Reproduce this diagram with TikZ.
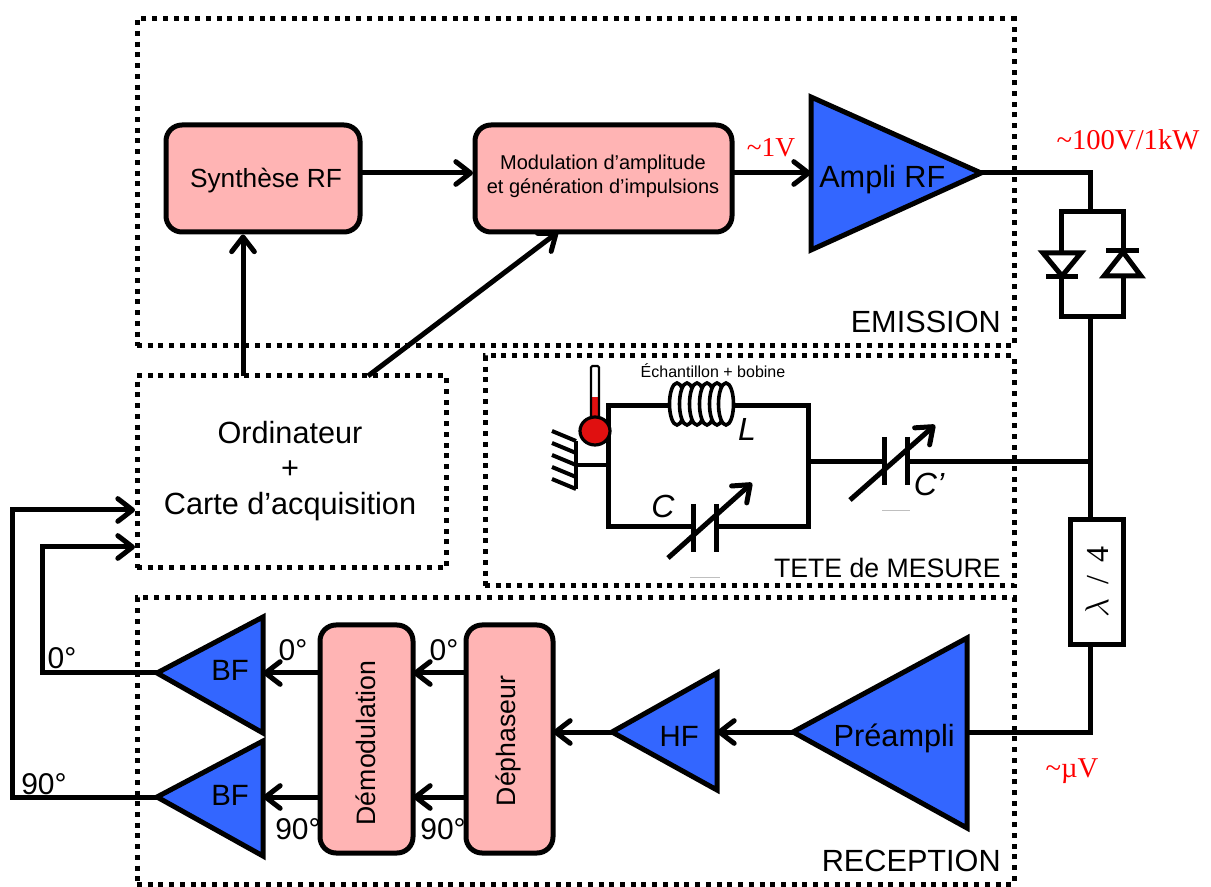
\documentclass[tikz,border=0pt]{standalone}
\usepackage{fontspec}
\setmainfont{Liberation Sans}
\newfontfamily\redfont{Liberation Serif}
\usetikzlibrary{arrows.meta}
\definecolor{boxpink}{RGB}{255,180,180}
\definecolor{ampblue}{RGB}{51,102,255}
\definecolor{thermred}{RGB}{224,16,16}
\tikzset{
  wire/.style={line width=3.75pt,line join=miter},
  flow/.style={line width=3.75pt,-{Straight Barb[length=11pt,width=17pt,line width=3.75pt,round]}},
  dotbox/.style={draw,line width=3.75pt,dash pattern=on 3.75pt off 4.3pt},
  pinkbox/.style={draw,line width=3.75pt,fill=boxpink,rounded corners=12pt,inner sep=0pt,align=center},
  amp/.style={draw,line width=3.75pt,fill=ampblue,line join=miter},
  txt/.style={inner sep=0pt,font=\fontsize{23}{27}\selectfont,align=center},
  lab/.style={inner sep=0pt,font=\fontsize{23}{27}\selectfont},
  rlab/.style={inner sep=0pt,text=red,font=\redfont\fontsize{21.5}{25}\selectfont},
  deg/.style={inner sep=0pt,font=\fontsize{22.5}{27}\selectfont},
  sym/.style={inner sep=0pt,font=\itshape\fontsize{24}{28}\selectfont},
  vtxt/.style={font=\fontsize{20}{24}\selectfont}
}
\begin{document}
\begin{tikzpicture}[x=0.75pt,y=-0.75pt]
\useasboundingbox (0,0) rectangle (1211,887);
% dotted regions
\node[dotbox,minimum width=657.75pt,minimum height=245.25pt,inner sep=0pt] (em) at (575.5,182.5) {};
\node[dotbox,minimum width=396.75pt,minimum height=172.5pt,inner sep=0pt] (tm) at (749.5,471) {};
\node[dotbox,minimum width=657.75pt,minimum height=214.5pt,inner sep=0pt] (rc) at (575.5,741) {};
\node[dotbox,minimum width=231.75pt,minimum height=144pt,inner sep=0pt] (pc) at (291.5,472) {};
\node[txt,font=\fontsize{23}{26.5}\selectfont] (pct) at (290,471) {Ordinateur\\+\\Carte d’acquisition};
\node[lab,anchor=base east] (emt) at (1001,333) {EMISSION};
\node[lab,anchor=base east,font=\fontsize{20}{24}\selectfont] (tmt) at (1001,578) {TETE de MESURE};
\node[lab,anchor=base east] (rct) at (1001,871) {RECEPTION};
% emission blocks
\node[pinkbox,minimum width=145.5pt,minimum height=80.25pt] (syn) at (263,178.5) {};
\node[txt,font=\fontsize{19.7}{24}\selectfont] (synt) at (266,181) {Synthèse RF};
\node[pinkbox,minimum width=192.75pt,minimum height=80.25pt] (mod) at (603.5,178.5) {};
\node[txt,font=\fontsize{15}{18.2}\selectfont] (modt) at (603,176) {Modulation d’amplitude\\et génération d’impulsions};
\draw[amp] (811,97) -- (811,250) -- (981,173) -- cycle;
\coordinate (ampin) at (811,173);
\coordinate (ampout) at (981,173);
\node[txt,anchor=west] (ampt) at (819,180) {Ampli RF};
% reception blocks
\draw[amp] (967,638) -- (967,828) -- (793,732) -- cycle;
\coordinate (preout) at (793,732);
\coordinate (prein) at (967,732);
\node[txt,anchor=east] (pret) at (955,738) {Préampli};
\draw[amp] (717,673) -- (717,790) -- (612,732) -- cycle;
\coordinate (hfin) at (717,732);
\coordinate (hfout) at (612,732);
\node[txt,anchor=east,font=\fontsize{22}{26}\selectfont] (hft) at (699,736) {HF};
\node[pinkbox,rotate=90,minimum width=171pt,minimum height=65.25pt] (dep) at (509.5,739) {};
\node[vtxt,rotate=90,inner sep=0pt] (dept) at (508,741) {Déphaseur};
\node[pinkbox,rotate=90,minimum width=171pt,minimum height=69.75pt] (dem) at (366.5,739) {};
\node[vtxt,rotate=90,inner sep=0pt] (demt) at (366,743) {Démodulation};
\draw[amp] (263,617) -- (263,733) -- (157,673) -- cycle;
\coordinate (bfain) at (263,673);
\coordinate (bfaout) at (157,673);
\node[txt,anchor=east,font=\fontsize{22}{26}\selectfont] (bfat) at (249,670) {BF};
\draw[amp] (263,741) -- (263,856) -- (157,797) -- cycle;
\coordinate (bfbin) at (263,797);
\coordinate (bfbout) at (157,797);
\node[txt,anchor=east,font=\fontsize{22}{26}\selectfont] (bfbt) at (249,795) {BF};
% emission connectors
\coordinate (syno) at (360,173);
\coordinate (modi) at (473,173);
\coordinate (modo) at (732,173);
\draw[flow] (syno) -- (modi);
\draw[flow] (modo) -- (ampin);
\coordinate (pca) at (243,376);
\coordinate (pcb) at (368,376);
\coordinate (modb) at (558,232);
\draw[flow] (pca) -- (syn.south -| pca);
\draw[flow] (pcb) -- (modb);
% diodes
\coordinate (dtop) at (1090,212);
\coordinate (dbot) at (1090,317);
\draw[wire] (ampout) -- (1090,173) -- (dtop);
\draw[wire] (1061,212) rectangle (1123,317);
\draw[wire,fill=white] (1043,253) -- (1081,253) -- (1062,276) -- cycle;
\draw[wire] (1046,277) -- (1078,277);
\draw[wire,fill=white] (1104,276) -- (1141,276) -- (1123,252) -- cycle;
\draw[wire] (1106,251) -- (1139,251);
% lambda
\node[draw,line width=3.9pt,minimum width=39.75pt,minimum height=93.75pt,inner sep=0pt,fill=white] (lam) at (1097,582) {\rotatebox{90}{\fontsize{24}{28}\selectfont\redfont$\lambda$ \,/\, 4}};
\coordinate (lamt) at (1090,519);
\coordinate (lamb) at (1090,645);
\coordinate (junc) at (1090,462);
\draw[wire] (dbot) -- (lamt);
\draw[wire] (lamb) -- (1090,732) -- (prein);
% reception connectors
\coordinate (depr) at (553,732);
\draw[flow] (preout) -- (hfin);
\draw[flow] (hfout) -- (depr);
\coordinate (depa) at (466,673);
\coordinate (depb) at (466,797);
\coordinate (dema) at (413,673);
\coordinate (demb) at (413,797);
\coordinate (demc) at (320,673);
\coordinate (demd) at (320,797);
\draw[flow] (depa) -- (dema);
\draw[flow] (depb) -- (demb);
\draw[flow] (demc) -- (bfain);
\draw[flow] (demd) -- (bfbin);
\coordinate (pcc) at (135,510);
\coordinate (pcd) at (135,547);
\draw[flow,line join=miter] (bfbout) -- (12,797) -- (12,510) -- (pcc);
\draw[flow,line join=miter] (bfaout) -- (42,673) -- (42,547) -- (pcd);
% labels
\node[rlab,font=\redfont\fontsize{20.5}{24}\selectfont] (u1) at (771,148) {\char"007E 1V};
\node[rlab] (u2) at (1128,140) {\char"007E 100V/1kW};
\node[rlab] (u3) at (1072,771) {\char"007E µV};
\node[deg] (d1) at (293,650) {0°};
\node[deg] (d2) at (444,650) {0°};
\node[deg] (d3) at (62,658) {0°};
\node[deg] (d4) at (44,784) {90°};
\node[deg] (d5) at (298,829) {90°};
\node[deg] (d6) at (443,829) {90°};
% measuring head
\coordinate (lin) at (670,406);
\coordinate (lout) at (733,406);
\draw[wire] (lin) -- (608,406) -- (608,527) -- (693,527);
\draw[wire] (lout) -- (808,406) -- (808,527) -- (716,527);
\foreach \cx in {677,687,697,707,717,726}
  \draw[line width=2.7pt,fill=white] (\cx,404) ellipse [x radius=7.5, y radius=21];
\node[inner sep=0pt,font=\fontsize{12}{14}\selectfont] (samp) at (713,371) {Échantillon + bobine};
\node[sym] (lL) at (747,429) {L};
\node[sym] (lC) at (663,506) {C};
\node[sym] (lCp) at (929,484) {C’};
% C
\draw[wire] (693,504) -- (693,552);
\draw[wire] (716,504) -- (716,552);
\draw[flow] (668,558) -- (752,483);
% C'
\coordinate (cpr) at (808,462);
\draw[wire] (cpr) -- (884,462);
\draw[wire] (907,462) -- (junc);
\draw[wire] (884,437) -- (884,485);
\draw[wire] (907,437) -- (907,485);
\draw[flow] (850,500) -- (935,425);
\draw[line width=0.6pt,gray!50] (882,510) -- (910,510);
\draw[line width=0.6pt,gray!50] (690,577) -- (720,577);
% ground
\coordinate (gnd) at (576,465);
\draw[line width=3pt] (608,465) -- (gnd);
\draw[line width=3pt] (576,441) -- (576,489);
\foreach \hy in {440,452,464,476,488}
  \draw[line width=3pt] (576,\hy+1) -- (552,\hy-9);
% thermometer
\fill[white] (592,366) rectangle (599,410);
\fill[thermred] (592,397) rectangle (599,420);
\draw[line width=1.6pt,rounded corners=1pt] (591,420) -- (591,366) -- (599,366) -- (599,420);
\draw[line width=2.4pt,fill=thermred] (595,431) ellipse [x radius=15, y radius=14];
\end{tikzpicture}
\end{document}
